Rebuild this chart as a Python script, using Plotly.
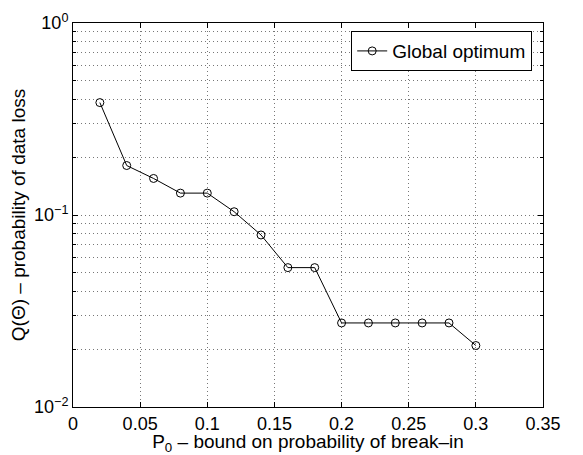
import plotly.graph_objects as go

p0 = [0.02, 0.04, 0.06, 0.08, 0.10, 0.12, 0.14, 0.16, 0.18, 0.20, 0.22, 0.24, 0.26, 0.28, 0.30]
q_loss = [0.385, 0.181, 0.155, 0.130, 0.130, 0.104, 0.0787, 0.0532, 0.0532, 0.0274, 0.0274, 0.0274, 0.0274, 0.0274, 0.0209]

x_ticks = [0, 0.05, 0.1, 0.15, 0.2, 0.25, 0.3, 0.35]
x_tick_labels = ["0", "0.05", "0.1", "0.15", "0.2", "0.25", "0.3", "0.35"]
y_ticks = [0.01, 0.1, 1]
y_tick_labels = ["10<sup>−2</sup>", "10<sup>−1</sup>", "10<sup>0</sup>"]
y_minor = [m * d for d in (0.01, 0.1) for m in range(2, 10)]

font = dict(family="Liberation Sans, Arial, Helvetica, sans-serif", size=18, color="black")
grid = dict(showgrid=True, gridcolor="#777777", griddash="1px,3px", gridwidth=1)

fig = go.Figure()
fig.add_trace(go.Scatter(
    x=p0, y=q_loss, mode="lines+markers", name="Global optimum",
    line=dict(color="black", width=1),
    marker=dict(symbol="circle-open", size=8, color="black", line=dict(width=1)),
))

# page body has an 8px margin, so the figure is sized to the visible 575x447 area
fig.update_layout(
    width=575, height=447,
    margin=dict(l=65, r=40, t=15, b=48),
    paper_bgcolor="white", plot_bgcolor="white",
    font=font,
    showlegend=True,
    legend=dict(x=0.977, y=0.979, xanchor="right", yanchor="top",
                bgcolor="white", bordercolor="black", borderwidth=1,
                font=dict(size=19), itemwidth=30,
                tracegroupgap=0),
    xaxis=dict(
        range=[0, 0.35], tickvals=x_ticks, ticktext=x_tick_labels,
        showline=True, linecolor="black", linewidth=1, mirror="ticks",
        ticks="inside", ticklen=5, tickcolor="black",
        zeroline=False, automargin=False,
        title=dict(text="P<sub>0</sub> – bound on probability of break–in", standoff=0, font=dict(size=19)),
        **grid,
    ),
    yaxis=dict(
        type="log", range=[-2, 0], tickvals=y_ticks, ticktext=y_tick_labels,
        showline=True, linecolor="black", linewidth=1, mirror="ticks",
        ticks="inside", ticklen=5, tickcolor="black",
        zeroline=False, automargin=False,
        minor=dict(tickvals=y_minor, ticks="inside", ticklen=3, tickcolor="black", **grid),
        title=dict(text="Q(Θ) – probability of data loss", standoff=4, font=dict(size=19)),
        **grid,
    ),
)

fig.write_html("out.html")
